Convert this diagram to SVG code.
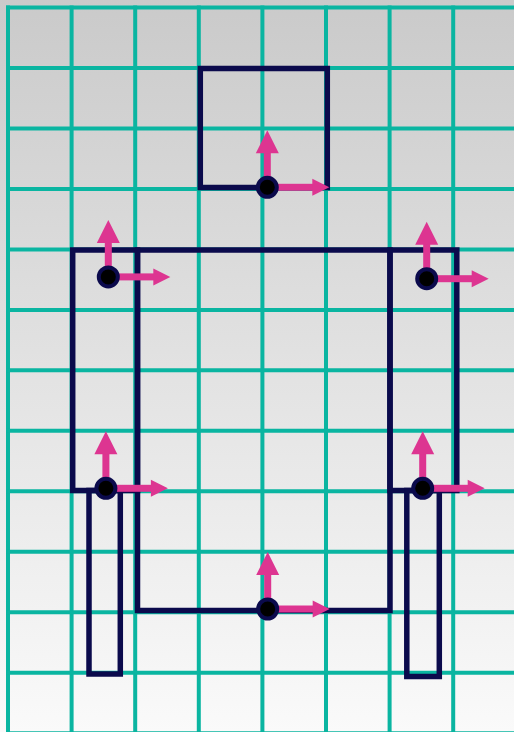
<svg xmlns="http://www.w3.org/2000/svg" width="514" height="732" viewBox="0 0 514 732">
  <style>
    .grid line { stroke: #0ab5a1; stroke-width: 4; }
    .part { fill: none; stroke: #0b0a4c; stroke-width: 5.5; }
    .arrow { fill: #dd3591; }
    .origin { fill: #000000; stroke: #0b0a4c; stroke-width: 4; }
  </style>
  <defs>
    <linearGradient id="bg" x1="0" y1="0" x2="0" y2="1">
      <stop offset="0" stop-color="#cacaca"/>
      <stop offset="1" stop-color="#fafafa"/>
    </linearGradient>
    <g id="axes">
      <rect class="arrow" x="-3.5" y="-36" width="7" height="36"/>
      <polygon class="arrow" points="-11.5,-34 11.5,-34 0,-57"/>
      <rect class="arrow" x="0" y="-3.5" width="46" height="7"/>
      <polygon class="arrow" points="45,-8.5 45,8.5 62,0"/>
      <circle class="origin" cx="0" cy="0" r="9.5"/>
    </g>
  </defs>
  <rect x="0" y="0" width="514" height="732" fill="url(#bg)"/>
  <g class="grid">
    <line x1="8" y1="5.5" x2="8" y2="732"/>
    <line x1="71.6" y1="5.5" x2="71.6" y2="732"/>
    <line x1="135.2" y1="5.5" x2="135.2" y2="732"/>
    <line x1="198.8" y1="5.5" x2="198.8" y2="732"/>
    <line x1="262.4" y1="5.5" x2="262.4" y2="732"/>
    <line x1="326" y1="5.5" x2="326" y2="732"/>
    <line x1="389.6" y1="5.5" x2="389.6" y2="732"/>
    <line x1="453.2" y1="5.5" x2="453.2" y2="732"/>
    <line x1="6" y1="7.5" x2="514" y2="7.5"/>
    <line x1="6" y1="68" x2="514" y2="68"/>
    <line x1="6" y1="128.4" x2="514" y2="128.4"/>
    <line x1="6" y1="188.9" x2="514" y2="188.9"/>
    <line x1="6" y1="249.4" x2="514" y2="249.4"/>
    <line x1="6" y1="309.9" x2="514" y2="309.9"/>
    <line x1="6" y1="370.3" x2="514" y2="370.3"/>
    <line x1="6" y1="430.8" x2="514" y2="430.8"/>
    <line x1="6" y1="491.3" x2="514" y2="491.3"/>
    <line x1="6" y1="551.7" x2="514" y2="551.7"/>
    <line x1="6" y1="612.2" x2="514" y2="612.2"/>
    <line x1="6" y1="672.7" x2="514" y2="672.7"/>
    <line x1="6" y1="733.2" x2="514" y2="733.2"/>
  </g>
  <g id="head"><rect class="part" x="200.3" y="68.5" width="127" height="119"/></g>
  <g id="body"><rect class="part" x="137.5" y="250" width="252.5" height="360.5"/></g>
  <g id="left-arm"><rect class="part" x="72.7" y="250" width="64.8" height="240.5"/></g>
  <g id="right-arm"><rect class="part" x="390" y="250" width="66.8" height="240.5"/></g>
  <g id="left-leg"><rect class="part" x="89" y="490.5" width="31.3" height="183.5"/></g>
  <g id="right-leg"><rect class="part" x="406.8" y="490.5" width="32.5" height="186"/></g>
  <g id="frames">
    <use href="#axes" x="267.3" y="187.3"/>
    <use href="#axes" x="108.3" y="276.9"/>
    <use href="#axes" x="426.7" y="278.7"/>
    <use href="#axes" x="105.9" y="488.3"/>
    <use href="#axes" x="422.7" y="488.3"/>
    <use href="#axes" x="267.7" y="609"/>
  </g>
</svg>
